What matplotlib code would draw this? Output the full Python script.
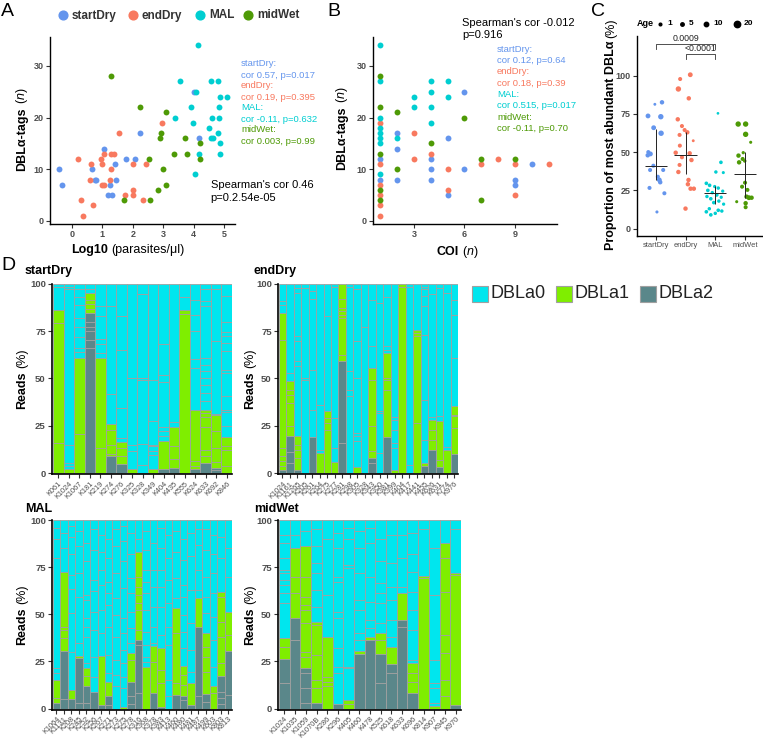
import matplotlib
matplotlib.use('Agg')
import matplotlib.pyplot as plt
from matplotlib.lines import Line2D
from matplotlib.patches import Rectangle

plt.rcParams['font.family'] = ['Liberation Sans', 'DejaVu Sans']
plt.rcParams['mathtext.fontset'] = 'custom'
plt.rcParams['mathtext.rm'] = 'Liberation Sans'
plt.rcParams['mathtext.it'] = 'Liberation Sans:italic'
plt.rcParams['mathtext.bf'] = 'Liberation Sans:bold'

W, H = 763, 739
fig = plt.figure(figsize=(W / 100, H / 100), dpi=100)

# ---------------- data ----------------
groups = ['startDry', 'endDry', 'MAL', 'midWet']
group_colors = ['#6495ED', '#F8795F', '#00CED1', '#4E9A06']

# Panel A: log10 parasitaemia vs DBLa tags
A_startDry_x = [-0.43, -0.34, 0.66, 0.75, 0.80, 1.06, 1.24, 1.20, 1.31, 1.40, 1.45, 1.78, 2.07, 2.24, 4.19, 4.00]
A_startDry_y = [10, 7, 10, 8, 8, 14, 7, 5, 5, 11, 8, 12, 12, 17, 16, 25]
A_endDry_x = [0.19, 0.63, 0.61, 0.95, 1.00, 1.04, 1.00, 1.04, 1.28, 1.39, 1.28, 1.25, 1.56, 1.75, 2.02,
              2.02, 2.00, 2.33, 2.42, 2.97, 0.29, 0.70, 0.35]
A_endDry_y = [12, 11, 8, 12, 11, 13, 7, 7, 13, 13, 10, 8, 17, 5, 6, 5, 11, 4, 11, 19, 4, 3, 1]
A_MAL_x = [4.14, 3.54, 4.56, 4.80, 4.07, 4.87, 5.11, 3.90, 4.84, 3.40, 4.60, 4.82, 3.97, 4.50, 4.57,
           4.64, 4.79, 4.86, 4.18, 4.87, 4.05]
A_MAL_y = [34, 27, 27, 27, 25, 24, 24, 22, 22, 20, 20, 20, 19, 18, 16, 16, 17, 15, 13, 13, 9]
A_midWet_x = [1.30, 2.24, 3.08, 2.93, 2.90, 3.72, 4.22, 3.37, 3.78, 4.21, 2.54, 3.00, 3.09, 2.83, 1.72, 2.57]
A_midWet_y = [28, 22, 21, 17, 16, 16, 15, 13, 13, 12, 12, 10, 7, 6, 4, 4]
A_cor = ['cor 0.57, p=0.017', 'cor 0.19, p=0.395', 'cor -0.11, p=0.632', 'cor 0.003, p=0.99']
A_spearman = ["Spearman's cor 0.46", 'p=0.2.54e-05']

# Panel B: COI vs DBLa tags
B_startDry_x = [1, 1, 2, 2, 2, 4, 4, 4, 5, 5, 6, 6, 9, 9, 10]
B_startDry_y = [12, 8, 17, 14, 8, 12, 10, 8, 16, 5, 25, 10, 8, 7, 11]
B_endDry_x = [1, 1, 1, 1, 1, 1, 3, 3, 4, 5, 5, 7, 8, 9, 9, 11]
B_endDry_y = [19, 11, 7, 5, 3, 1, 17, 12, 13, 10, 6, 11, 12, 11, 5, 11]
B_MAL_x = [1, 1, 1, 1, 1, 1, 1, 1, 2, 3, 3, 4, 4, 4, 4, 5, 5]
B_MAL_y = [34, 27, 20, 18, 17, 16, 15, 9, 16, 24, 22, 27, 25, 22, 19, 27, 24]
B_midWet_x = [1, 1, 1, 1, 1, 2, 2, 4, 6, 7, 7, 9]
B_midWet_y = [28, 22, 13, 6, 4, 21, 10, 15, 20, 12, 4, 12]
B_cor = ['cor 0.12, p=0.64', 'cor 0.18, p=0.39', 'cor 0.515, p=0.017', 'cor -0.11, p=0.70']
B_spearman = ["Spearman's cor -0.012", 'p=0.916']

# Panel C: proportion of most abundant DBLa (value, jitter offset, age)
C_startDry_v = [81.2, 82.5, 73.6, 73.1, 65.9, 62.3, 50, 48.8, 47.9, 41.1, 38.3, 38.3, 33.9, 31.8, 30.3, 26.6, 23.1, 10.9]
C_startDry_j = [-0.03, 0.21, -0.26, 0.17, -0.07, 0.18, -0.25, -0.18, -0.27, -0.08, -0.19, 0.25, 0.07, 0.12, 0.15, -0.21, 0.29, 0.04]
C_startDry_age = [2, 10, 12, 15, 12, 15, 8, 12, 10, 8, 8, 8, 8, 12, 10, 8, 8, 3]
C_endDry_v = [100.5, 97.7, 91.2, 85.1, 71.4, 67, 64.4, 62.9, 57.4, 61.2, 54.2, 49.6, 49.2, 46.6, 44.8, 41.6, 37, 31.8, 29, 26.1, 26.1, 13.1]
C_endDry_j = [0.16, -0.18, -0.24, 0.11, -0.26, -0.12, -0.03, 0.06, 0.26, -0.2, -0.19, -0.33, 0.14, -0.12, 0.2, -0.2, -0.24, 0.1, 0.08, 0.17, 0.28, 0.0]
C_endDry_age = [12, 8, 15, 10, 10, 8, 8, 10, 2, 8, 8, 10, 10, 8, 10, 8, 10, 10, 10, 10, 10, 10]
C_MAL_v = [75.3, 43.3, 37, 36.6, 29.6, 28.3, 27.5, 26.5, 25, 24.5, 23.5, 22, 21, 20.5, 19.5, 18, 17, 16, 13, 12, 11.5, 11, 10, 9]
C_MAL_j = [0.09, 0.19, 0.02, 0.27, -0.3, -0.19, -0.02, 0.1, -0.25, 0.25, -0.1, 0.05, -0.28, 0.2, -0.15, 0.12, -0.05, 0.28, -0.2, 0.1, 0.22, -0.3, 0.0, -0.15]
C_MAL_age = [1, 6, 5, 3, 6, 6, 4, 5, 6, 4, 5, 6, 5, 4, 6, 5, 6, 4, 5, 6, 5, 6, 5, 6]
C_midWet_v = [68.3, 68.3, 61.6, 56.4, 49.6, 47.7, 45.5, 44.2, 43.3, 30, 27.4, 25.3, 20.9, 20.2, 20.2, 17.6, 16.6, 14]
C_midWet_j = [-0.23, 0.02, 0.02, 0.19, -0.06, -0.22, -0.08, -0.01, -0.2, 0.0, -0.1, 0.08, 0.05, 0.13, 0.22, -0.28, 0.02, 0.02]
C_midWet_age = [15, 15, 15, 3, 4, 10, 8, 5, 10, 8, 8, 8, 10, 12, 10, 3, 10, 8]
C_median = [41, 48, 23, 36]
C_q_low = [32, 36, 16, 20]
C_q_high = [65, 63, 28, 50]
C_pvals = ['0.0009', '<0.0001']
age_legend = [1, 5, 10, 20]

# Panel D: stacked per-tag read proportions
sd_samples = ['K061', 'K1024', 'K1067', 'K181', 'K219', 'K274', 'K276', 'K325', 'K328', 'K349', 'K404', 'K435',
              'K555', 'K624', 'K633', 'K692', 'K846']
sd_a2 = [0, 0, 0, 84.5, 0, 8.8, 4.9, 0, 0, 0, 2.1, 2.5, 0, 2.1, 5.3, 2.6, 0]
sd_a1 = [86, 2, 61, 95.2, 61, 26, 16.2, 2.1, 0, 2.1, 16.7, 24.1, 86.3, 33.5, 33.5, 30.5, 19]
sd_cuts = [[16, 79, 98.4], [3.5, 5.3, 15, 97, 98.5], [20.6, 64, 66, 72, 77, 82, 89, 93, 97],
           [66, 70.4, 75, 77, 80, 86.6, 89.3, 91.6, 97], [13, 63.4, 68, 71, 83, 88], [10.2, 15, 23, 42, 88],
           [8.8, 13.2, 18.5, 34.3, 64.8, 82.7], [11.4, 15, 50.2], [4.4, 15.5, 49.3, 50.2, 94.6],
           [9.7, 11.4, 14.1, 15, 27.3, 49.3], [19.4, 22, 24.3, 48, 52, 68], [7.6, 14.4, 26.9], [84, 93],
           [3.9, 6.2, 55.5, 60.4, 74.8, 83.6, 91.6],
           [8.8, 12.3, 24.1, 29.6, 31.7, 37.9, 42.3, 46.7, 50.2, 53.7, 57.2, 60.7, 88, 90.7, 97.3],
           [1.8, 5.6, 13.2, 22, 31, 70, 97.3],
           [3.5, 12.3, 14.1, 24.6, 32, 33.5, 40.5, 52.8, 54.6, 64.3, 68.7, 72.2, 74.3, 79.8, 93.4]]

ed_samples = ['K1024', 'K1161', 'K1265', 'K205', 'K261', 'K264', 'K275', 'K277', 'K281', 'K298', 'K305', 'K328',
              'K343', 'K350', 'K381', 'K399', 'K404', 'K417', 'K441', 'K455', 'K626', 'K631', 'K774', 'K976']
ed_a2 = [1.8, 19.4, 1.8, 0, 18.8, 0, 0, 0, 59, 0, 0, 0, 7.9, 0, 19, 0, 0, 0, 0, 3.9, 12, 3.2, 0, 10.2]
ed_a1 = [84.5, 48.4, 19.4, 0, 18.8, 10.6, 32.6, 5.6, 100, 0, 3.2, 0, 55.5, 0, 63.4, 1.8, 100, 0, 75.5, 5.3,
         27.8, 27.3, 12, 35.2]
ed_cuts = [[3.5, 6.2, 8.8, 13.2, 70.4, 89, 90.7], [5.3, 10.9, 24.6, 37, 41.4, 44, 52.8],
           [7.9, 12.3, 15, 56.7, 59, 69.5, 72.2, 95.2, 97.9], [49.3, 50.2, 97.9], [33.5, 54.6, 92, 96.1],
           [12.3, 36], [22.9, 26.4, 29, 82.7], [13.2, 29, 98.4], [15.8, 62.5, 82.1, 83.6, 85.4, 87.1, 92],
           [40.5, 44, 53.7, 98.4], [16.7, 19.4, 21.1, 50.2, 69.5, 97.3], [77.3],
           [5.3, 11.4, 24.6, 49.3, 66.9, 91.6], [10.6, 31.7, 32.6, 89.8], [44, 49.3, 50.2, 65.1, 66.9, 92.9],
           [13.2, 15.8, 22.9, 28.2, 29.6], [98.4], [4.4, 98.4], [26.4, 72.5, 74.1],
           [17.6, 38.4, 73, 88, 93.4, 97, 98.4], [17.6, 22.9, 29.6, 94.6], [7, 29.9, 97.9], [13.7, 95.2],
           [23.8, 29.9, 30.8, 60.7, 83.6, 91.6]]

mal_samples = ['K1064', 'K1131', 'K208', 'K245', 'K252', 'K256', 'K267', 'K271', 'K273', 'K275', 'K278', 'K316',
               'K368', 'K378', 'K383', 'K413', 'K460', 'K480', 'K481', 'K487', 'K499', 'K603', 'K803', 'K813']
mal_a2 = [3.2, 30.7, 5, 27, 12, 8.8, 1.9, 6.9, 0, 0, 14.3, 36.4, 0, 8.1, 1, 0, 7.1, 6.7, 1.8, 43.1, 7.8, 0, 17.3, 30.7]
mal_a1 = [15.2, 72.6, 9.9, 28.1, 21.4, 8.8, 27.9, 14.1, 0, 1, 29.3, 83, 22.3, 33.2, 32, 0, 53.2, 22.6, 13.4,
          58.5, 40.3, 12, 62, 51.4]
mal_cuts = [[5.5, 18.7, 21.4, 80, 90, 96], [5, 37.3, 41.7, 43.5, 85, 93], [30.2, 50.5, 63.3, 70.8, 82, 91, 97],
            [3.2, 34.6, 59.4, 72, 86, 94], [2.8, 17.3, 24, 38.2, 43.5, 47.9, 57.6, 60.2, 78, 88],
            [17, 27.6, 41.7, 51.4, 62.5, 68.2, 84, 95], [39.9, 52.3, 65.5, 73.5, 83, 92],
            [1.9, 18.7, 28.4, 43.5, 54.9, 61.1, 67.3, 80, 90], [11.7, 17.8, 25.8, 38.2, 49.6, 58.5, 71.7, 86, 95],
            [10.8, 17, 24, 31.1, 39.9, 47.9, 63.8, 78, 89, 97], [2.3, 6.4, 25.8, 34.6, 42.6, 51.4, 61.1, 69.1, 82, 93],
            [8.1, 33.7, 41.7, 52.3, 55.8, 60.2, 64.7, 70, 90], [24.9, 27.6, 33.7, 40.8, 52.3, 61.1, 67.3, 73.5, 84, 94],
            [24.9, 34.6, 43.5, 54.1, 64.7, 73.5, 88], [13.4, 20.5, 39, 54.1, 64.7, 73.5, 85, 96],
            [6.4, 15.2, 33.7, 43.5, 55.8, 68.2, 80, 92], [13.4, 39.9, 58.5, 69.1, 83, 94],
            [4.6, 12.5, 17.8, 32, 40.8, 49.6, 59.4, 65.5, 79, 90], [19.6, 31.1, 45.2, 62.9, 81, 93],
            [6.7, 62.9, 73.5, 87, 95], [3.7, 19.6, 27.6, 32.9, 50.5, 59.4, 70, 84, 95],
            [8.1, 22.3, 36.4, 48.8, 61.1, 71.7, 82, 92], [2.5, 5.5, 9, 24, 38.2, 46.1, 59.4, 80, 91],
            [7.2, 39, 70, 85]]

mw_samples = ['K1024', 'K1035', 'K1059', 'K1070B', 'K286', 'K296', 'K405', 'K460', 'K478', 'K525', 'K618', 'K633',
              'K696', 'K814', 'K907', 'K945', 'K970']
mw_a2 = [26.1, 47.9, 21.4, 2.8, 0, 2.5, 0, 29, 36.4, 29, 23.7, 47, 8.5, 0, 0, 0, 1.8]
mw_a1 = [37.3, 85, 86, 46.1, 38.2, 2.5, 4.6, 30.7, 38.2, 39.9, 32.5, 61.1, 24.4, 70.3, 1.4, 88, 72.1]
mw_cuts = [[13.4, 32.5, 55.8, 61.1, 65.5, 68.2, 71.7, 73.5, 80, 88, 92], [36.4, 61.1, 69.6, 92],
           [2.8, 10.8, 18.7, 27.6, 30.2, 45.2, 52.3, 54.9, 59.4, 70, 94],
           [10.8, 15.2, 28.4, 44.3, 54.1, 62.9, 71.7, 77, 86, 95], [11.7, 14.3, 17, 60, 90],
           [18.7, 22.3, 32, 47.9, 51.4, 67.3, 70, 85, 93], [2.5, 21.4, 22.3, 74.4, 76.1, 90, 96],
           [36.4, 39.9, 52.3, 57.6, 72, 85, 94], [42.6, 47, 56.7, 70, 88, 96],
           [13.4, 36.4, 45.2, 55.8, 61.1, 66.4, 78, 90], [18.7, 38.2, 47, 57.6, 64.7, 77, 92],
           [43.5, 64.7, 80, 92], [14.3, 18.7, 25.8, 41.7, 52.3, 62, 72.6, 82, 93], [69.1, 95],
           [3.2, 10.8, 13.4, 25.8, 60, 85], [6.4, 15.2, 29.7, 39, 62, 80], [70.8, 95]]

dbl_names = ['DBLa0', 'DBLa1', 'DBLa2']
dbl_colors = ['#00E6EE', '#7FEE00', '#5A878A']
EDGE = '#A0A0A0'
TICKC = '#4D4D4D'


# ---------------- helpers ----------------
def px_ax(l, t, r, b):
    return fig.add_axes([l / W, 1 - b / H, (r - l) / W, (b - t) / H])


def fx(x):
    return x / W


def fy(y):
    return 1 - y / H


def style(ax, size=6.5):
    for s in ['top', 'right']:
        ax.spines[s].set_visible(False)
    for s in ['left', 'bottom']:
        ax.spines[s].set_linewidth(1.0)
        ax.spines[s].set_color('black')
    ax.tick_params(length=3, width=0.8, color='#333333', labelcolor=TICKC, labelsize=size, pad=1.5)
    for lab in ax.get_xticklabels() + ax.get_yticklabels():
        lab.set_fontweight('bold')


renderer = fig.canvas.get_renderer()


def mixed(xp, yp, parts, size=9, rot=0, color='black'):
    ws = []
    for t, w, gap in parts:
        tt = fig.text(0, 0, t, fontsize=size, fontweight=w)
        ws.append(tt.get_window_extent(renderer).width)
        tt.remove()
    total = sum(ws) + sum(p[2] for p in parts)
    if rot == 0:
        x = xp - total / 2
        for (t, w, gap), wd in zip(parts, ws):
            x += gap
            fig.text(fx(x), fy(yp), t, fontsize=size, fontweight=w, ha='left', va='center', color=color)
            x += wd
    else:
        y = yp + total / 2
        for (t, w, gap), wd in zip(parts, ws):
            y -= gap
            fig.text(fx(xp), fy(y), t, fontsize=size, fontweight=w, ha='center', va='bottom',
                     rotation=90, color=color)
            y -= wd


GAP = 3.0

# ---------------- Panel A ----------------
axA = px_ax(50, 37, 235, 224)
A_x = [A_startDry_x, A_endDry_x, A_MAL_x, A_midWet_x]
A_y = [A_startDry_y, A_endDry_y, A_MAL_y, A_midWet_y]
for xs, ys, c in zip(A_x, A_y, group_colors):
    axA.scatter(xs, ys, s=18, color=c, linewidths=0, zorder=3, clip_on=False)
axA.set_xlim(-0.72, 5.36)
axA.set_ylim(-0.6, 35.6)
axA.set_xticks([0, 1, 2, 3, 4, 5])
axA.set_yticks([0, 10, 20, 30])
style(axA)

ly = 64
for g, c, cor in zip(groups, group_colors, A_cor):
    fig.text(fx(241), fy(ly), g + ':', fontsize=6.8, color=c, va='center', ha='left')
    fig.text(fx(241), fy(ly + 11), cor, fontsize=6.8, color=c, va='center', ha='left')
    ly += 22
fig.text(fx(210.5), fy(185), A_spearman[0], fontsize=8, va='center', ha='left')
fig.text(fx(210.5), fy(198), A_spearman[1], fontsize=8, va='center', ha='left')

mixed(22, 129, [('DBLα-tags', 'bold', 0), ('($\\mathit{n}$)', 'normal', GAP)], size=9, rot=90)
mixed(128, 250, [('Log10', 'bold', 0), ('(parasites/μl)', 'normal', GAP)], size=9)

# top legend
leg_x = [63, 133, 200, 248]
for g, c, x in zip(groups, group_colors, leg_x):
    fig.add_artist(Line2D([fx(x)], [fy(15)], marker='o', markersize=6.3, color=c, linestyle='none',
                          transform=fig.transFigure))
    fig.text(fx(x + 9), fy(15.5), g, fontsize=8.5, fontweight='bold', color='#333333', va='center', ha='left')

# ---------------- Panel B ----------------
axB = px_ax(373, 37, 557, 224)
B_x = [B_startDry_x, B_endDry_x, B_MAL_x, B_midWet_x]
B_y = [B_startDry_y, B_endDry_y, B_MAL_y, B_midWet_y]
for xs, ys, c in zip(B_x, B_y, group_colors):
    axB.scatter(xs, ys, s=18, color=c, linewidths=0, zorder=3, clip_on=False)
axB.set_xlim(0.56, 11.5)
axB.set_ylim(-0.6, 35.6)
axB.set_xticks([3, 6, 9])
axB.set_yticks([0, 10, 20, 30])
style(axB)

fig.text(fx(462), fy(23.3), B_spearman[0], fontsize=8, va='center', ha='left')
fig.text(fx(462), fy(35), B_spearman[1], fontsize=8, va='center', ha='left')
ly = 49.3
for g, c, cor in zip(groups, group_colors, B_cor):
    fig.text(fx(497), fy(ly), g + ':', fontsize=6.8, color=c, va='center', ha='left')
    fig.text(fx(497), fy(ly + 11.2), cor, fontsize=6.8, color=c, va='center', ha='left')
    ly += 22.6

mixed(342, 128, [('DBLα-tags', 'bold', 0), ('($\\mathit{n}$)', 'normal', GAP)], size=9, rot=90)
mixed(457.5, 252, [('COI', 'bold', 0), ('($\\mathit{n}$)', 'normal', GAP)], size=9)

# ---------------- Panel C ----------------
axC = px_ax(637, 36, 762, 236)
C_v = [C_startDry_v, C_endDry_v, C_MAL_v, C_midWet_v]
C_j = [C_startDry_j, C_endDry_j, C_MAL_j, C_midWet_j]
C_age = [C_startDry_age, C_endDry_age, C_MAL_age, C_midWet_age]


def age_diam(a):
    return 1.8 + 0.14 * a


for i, (vs, js, ages, c) in enumerate(zip(C_v, C_j, C_age, group_colors)):
    axC.scatter([i + 1 + j for j in js], vs, s=[age_diam(a) ** 2 for a in ages], color=c, linewidths=0,
                zorder=3, clip_on=False)
    axC.hlines(C_median[i], i + 1 - 0.37, i + 1 + 0.37, color='#222222', linewidth=0.7, zorder=4)
    axC.vlines(i + 1, C_q_low[i], C_q_high[i], color='#222222', linewidth=0.7, zorder=4)
axC.set_xlim(0.37, 4.57)
axC.set_ylim(-4.8, 125.8)
axC.set_xticks([1, 2, 3, 4])
axC.set_xticklabels(groups)
axC.set_yticks([0, 25, 50, 75, 100])
style(axC)
for lab in axC.get_xticklabels():
    lab.set_fontsize(5.4)
    lab.set_fontweight('normal')
# significance brackets
axC.plot([1, 1, 3, 3], [117.3, 120.8, 120.8, 117.3], color='#333333', linewidth=0.6, clip_on=False)
axC.plot([2, 2, 3, 3], [110.6, 114.1, 114.1, 110.6], color='#333333', linewidth=0.6, clip_on=False)
axC.text(2, 121.3, C_pvals[0], fontsize=6.3, ha='center', va='bottom', color='#222222')
axC.text(2.5, 114.6, C_pvals[1], fontsize=6.3, ha='center', va='bottom', color='#222222')

mixed(611, 134, [('Proportion of most abundant DBLα', 'bold', 0), ('(%)', 'normal', GAP)], size=9, rot=90)

# age legend
fig.text(fx(637), fy(23.5), 'Age', fontsize=6.5, fontweight='bold', va='center', ha='left')
for a, x in zip(age_legend, [660, 682, 706, 737]):
    fig.add_artist(Line2D([fx(x)], [fy(23.5)], marker='o', markersize=age_diam(a), color='black',
                          linestyle='none', transform=fig.transFigure))
    fig.text(fx(x + 7), fy(23.5), str(a), fontsize=6, fontweight='bold', va='center', ha='left')


# ---------------- Panel D ----------------
def draw_bars(ax, samples, a2, a1, cuts):
    for i in range(len(samples)):
        edges = sorted(set([0.0, 100.0, float(a2[i]), float(a1[i])] + [float(c) for c in cuts[i]]))
        for lo, hi in zip(edges[:-1], edges[1:]):
            mid = (lo + hi) / 2
            if mid < a2[i]:
                col = dbl_colors[2]
            elif mid < a1[i]:
                col = dbl_colors[1]
            else:
                col = dbl_colors[0]
            ax.bar(i, hi - lo, bottom=lo, width=1.0, color=col, edgecolor=EDGE, linewidth=0.6, zorder=2)
    ax.set_xlim(-0.6, len(samples) - 0.5)
    ax.set_ylim(-0.5, 100)
    ax.set_yticks([0, 25, 50, 75, 100])
    ax.set_xticks(range(len(samples)))
    ax.set_xticklabels(samples)
    style(ax, size=6.8)
    for lab in ax.get_xticklabels():
        lab.set_rotation(45)
        lab.set_ha('right')
        lab.set_rotation_mode('anchor')
        lab.set_fontsize(5.3)
        lab.set_fontweight('normal')
    ax.spines['left'].set_linewidth(1.2)
    ax.spines['bottom'].set_linewidth(1.2)


axD1 = px_ax(52, 283.7, 232, 474)
draw_bars(axD1, sd_samples, sd_a2, sd_a1, sd_cuts)
axD2 = px_ax(278, 283.7, 458, 474)
draw_bars(axD2, ed_samples, ed_a2, ed_a1, ed_cuts)
axD3 = px_ax(52, 520, 232, 709.5)
draw_bars(axD3, mal_samples, mal_a2, mal_a1, mal_cuts)
axD4 = px_ax(278, 520, 461, 709.5)
draw_bars(axD4, mw_samples, mw_a2, mw_a1, mw_cuts)

for (x, y, t) in [(25, 271, 'startDry'), (254, 271, 'endDry'), (25, 509, 'MAL'), (254, 509, 'midWet')]:
    fig.text(fx(x), fy(y), t, fontsize=9, fontweight='bold', va='center', ha='left')
for (x, y) in [(22, 379), (250, 379), (22, 615), (250, 615)]:
    mixed(x, y, [('Reads', 'bold', 0), ('(%)', 'normal', GAP)], size=9, rot=90)

# D legend
for name, col, sx in zip(dbl_names, dbl_colors, [472, 556, 640]):
    fig.add_artist(Rectangle((fx(sx), fy(302)), 16 / W, 16 / H, facecolor=col, edgecolor=EDGE,
                             linewidth=0.8, transform=fig.transFigure))
    fig.text(fx(sx + 19), fy(294), name, fontsize=13, va='center', ha='left', color='#222222')

# panel letters
for (x, y, t) in [(1, 11, 'A'), (327, 11, 'B'), (591, 11, 'C'), (1, 265, 'D')]:
    fig.text(fx(x), fy(y), t, fontsize=14, va='center', ha='left')

fig.savefig('out.png', dpi=100)
